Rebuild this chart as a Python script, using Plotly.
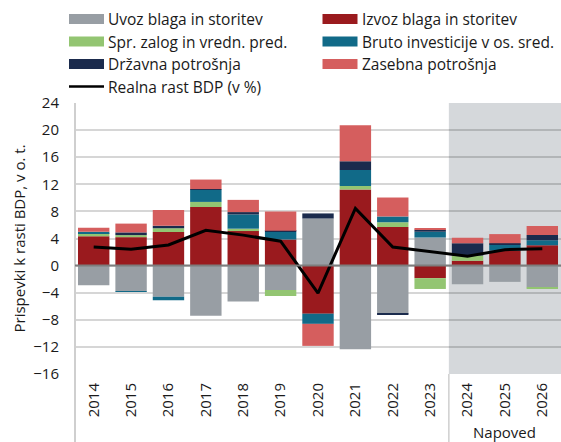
import plotly.graph_objects as go

years = [str(y) for y in range(2014, 2027)]
uvoz = [-2.9, -3.75, -4.6, -7.4, -5.3, -3.6, 6.95, -12.35, -7.1, 4.15, -2.75, -2.4, -3.2]
izvoz = [4.35, 4.2, 4.95, 8.65, 5.1, 3.85, -7.1, 11.25, 5.7, -1.85, 0.7, 2.2, 3.0]
spr_zalog = [0.45, 0.3, 0.55, 0.75, 0.35, -0.9, 0.0, 0.5, 0.7, -1.6, 0.8, 0.0, -0.15]
bruto_inv = [0.2, -0.1, -0.5, 1.8, 2.1, 1.15, -1.5, 2.35, 0.85, 0.85, 0.0, 0.9, 0.75]
drzavna = [0.0, 0.4, 0.4, 0.1, 0.35, 0.15, 0.75, 1.3, -0.15, 0.3, 1.8, 0.2, 0.75]
zasebna = [0.6, 1.3, 2.3, 1.4, 1.8, 2.85, -3.25, 5.3, 2.8, 0.25, 0.8, 1.35, 1.35]
bdp = [2.75, 2.4, 3.05, 5.2, 4.5, 3.6, -4.05, 8.45, 2.75, 2.1, 1.4, 2.35, 2.5]

names = ["Uvoz blaga in storitev", "Izvoz blaga in storitev", "Spr. zalog in vredn. pred.",
         "Bruto investicije v os. sred.", "Državna potrošnja", "Zasebna potrošnja"]
colors = ["#989ea4", "#9a1a1e", "#93c572", "#116a88", "#1b2b4d", "#d55e5e"]
series = [uvoz, izvoz, spr_zalog, bruto_inv, drzavna, zasebna]
line_name = "Realna rast BDP (v %)"
forecast_label = "Napoved"
ytitle = "Prispevki k rasti BDP, v o. t."

FONT = "Open Sans"
W, H = 561, 442
PL, PR, PT, PB = 75, 561, 103, 374   # plot area in pixels
ML, MT, MR, MB = PL, PT, W - PR, H - PB
PW, PH = PR - PL, PB - PT

def px(x):
    return (x - PL) / PW

def py(y):
    return (PB - y) / PH

fig = go.Figure()
for n, c, s in zip(names, colors, series):
    fig.add_trace(go.Bar(x=years, y=s, name=n, marker=dict(color=c, line=dict(width=0)),
                         showlegend=False))
fig.add_trace(go.Scatter(x=years, y=bdp, name=line_name, mode="lines",
                         line=dict(color="black", width=3), showlegend=False))

shapes = []
annotations = []
shapes.append(dict(type="rect", xref="x", yref="paper", x0=9.5, x1=12.5, y0=0, y1=1,
                   fillcolor="#d5d8db", line=dict(width=0), layer="below"))
shapes.append(dict(type="line", xref="x", yref="paper", x0=9.5, x1=9.5, y0=0, y1=py(H),
                   line=dict(color="#cfcfcf", width=1.5)))
shapes.append(dict(type="line", xref="paper", yref="paper", x0=0, x1=0, y0=1, y1=py(H),
                   line=dict(color="#cfcfcf", width=2)))
shapes.append(dict(type="line", xref="paper", yref="y", x0=0, x1=1, y0=0, y1=0,
                   line=dict(color="#7d7d7d", width=2), layer="above"))

LFS = 15.5
rows = [19, 41.5, 64, 86.5]
cols = [69, 322.5]
for i, (n, c) in enumerate(zip(names, colors)):
    r, col = divmod(i, 2)
    yc = rows[r]
    x0 = cols[col]
    shapes.append(dict(type="rect", xref="paper", yref="paper", x0=px(x0), x1=px(x0 + 35),
                       y0=py(yc - 5), y1=py(yc + 5), fillcolor=c, line=dict(width=0)))
    annotations.append(dict(xref="paper", yref="paper", x=px(x0 + 37), y=py(yc), text=n,
                            showarrow=False, xanchor="left", yanchor="middle",
                            font=dict(family=FONT, size=LFS, color="#1a1a1a")))
shapes.append(dict(type="line", xref="paper", yref="paper", x0=px(69), x1=px(104),
                   y0=py(rows[3]), y1=py(rows[3]), line=dict(color="black", width=2.5)))
annotations.append(dict(xref="paper", yref="paper", x=px(106), y=py(rows[3]), text=line_name,
                        showarrow=False, xanchor="left", yanchor="middle",
                        font=dict(family=FONT, size=LFS, color="#1a1a1a")))
annotations.append(dict(xref="paper", yref="paper", x=px(18), y=py(238.5), text=ytitle,
                        textangle=-90, showarrow=False, xanchor="center", yanchor="middle",
                        font=dict(family=FONT, size=15, color="#1a1a1a")))
annotations.append(dict(xref="x", yref="paper", x=11, y=py(432), text=forecast_label,
                        showarrow=False, xanchor="center", yanchor="middle",
                        font=dict(family=FONT, size=15, color="#1a1a1a")))

fig.update_layout(
    width=W, height=H, margin=dict(l=ML, r=MR, t=MT, b=MB, autoexpand=False),
    barmode="relative", bargap=0.16,
    plot_bgcolor="white", paper_bgcolor="white",
    font=dict(family=FONT, size=15, color="#1a1a1a"),
    shapes=shapes, annotations=annotations,
    xaxis=dict(type="category", range=[-0.5, 12.5], tickangle=-90, showgrid=False,
               showline=False, ticks="", ticklabelstandoff=5, tickfont=dict(size=15)),
    yaxis=dict(range=[-16, 24], tickvals=list(range(-16, 25, 4)), showgrid=True,
               gridcolor="rgba(0,0,0,0.16)", gridwidth=1.5, zeroline=False, showline=False,
               ticks="", ticklabelstandoff=15, tickfont=dict(size=15)),
)

fig.write_html("out.html", config={"responsive": False, "displayModeBar": False},
               post_script="document.body.style.margin='0';document.body.style.overflow='hidden';")
